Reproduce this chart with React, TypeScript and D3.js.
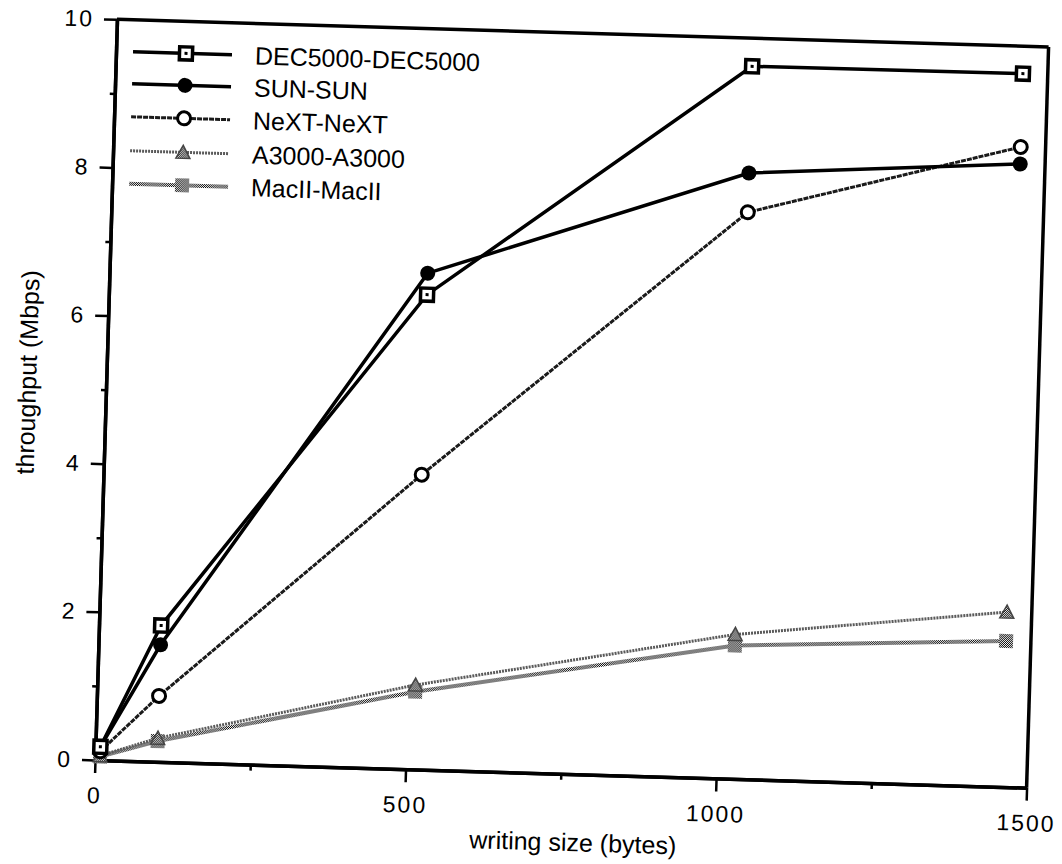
import React, { useRef, useEffect } from "react";
import * as d3 from "d3";

// writing size (bytes) and measured throughput (Mbps)
const writeSizes = [8, 100, 512, 1024, 1460];
const dec5000 = [0.18, 1.84, 6.41, 9.62, 9.63];
const sunSun = [0.18, 1.58, 6.7, 8.18, 8.41];
const nextNext = [0.12, 0.89, 3.98, 7.65, 8.64];
const a3000 = [0.06, 0.32, 1.14, 1.95, 2.36];
const macII = [0.05, 0.28, 1.05, 1.8, 1.97];

const seriesNames = ["DEC5000-DEC5000", "SUN-SUN", "NeXT-NeXT", "A3000-A3000", "MacII-MacII"];
const seriesValues = [dec5000, sunSun, nextNext, a3000, macII];

const xTicks = [0, 500, 1000, 1500];
const xMinorTicks = [250, 750, 1250];
const yTicks = [0, 2, 4, 6, 8, 10];
const yMinorTicks = [1, 3, 5, 7, 9];

const FONT = "'Liberation Sans', Arial, Helvetica, sans-serif";

export default function App() {
  const svgRef = useRef<SVGSVGElement>(null);

  useEffect(() => {
    const svg = d3.select(svgRef.current);
    svg.selectAll("*").remove();

    const width = 932;
    const height = 741;

    // checker pattern to imitate the dithered grey of the scan
    const defs = svg.append("defs");
    const pat = defs
      .append("pattern")
      .attr("id", "dither")
      .attr("width", 2)
      .attr("height", 2)
      .attr("patternUnits", "userSpaceOnUse");
    pat.append("rect").attr("width", 2).attr("height", 2).attr("fill", "#fff");
    pat.append("rect").attr("width", 1).attr("height", 1).attr("fill", "#000");
    pat.append("rect").attr("x", 1).attr("y", 1).attr("width", 1).attr("height", 1).attr("fill", "#000");

    // the scanned page is slightly tilted
    const g = svg.append("g").attr("transform", "translate(95,760) rotate(1.7)");

    const x = d3.scaleLinear().domain([0, 1500]).range([0, width]);
    const y = d3.scaleLinear().domain([0, 10]).range([0, -height]);

    // axes
    const xAxis = g
      .append("g")
      .call(d3.axisBottom(x).tickValues(xTicks).tickSize(13).tickSizeOuter(0).tickPadding(14).tickFormat(d3.format("d")));
    const xMinor = g
      .append("g")
      .call(d3.axisBottom(x).tickValues(xMinorTicks).tickSize(6).tickSizeOuter(0).tickFormat(() => ""));
    const yAxis = g
      .append("g")
      .call(d3.axisLeft(y).tickValues(yTicks).tickSize(13).tickSizeOuter(0).tickPadding(10).tickFormat(d3.format("d")));
    const yMinor = g
      .append("g")
      .call(d3.axisLeft(y).tickValues(yMinorTicks).tickSize(5).tickSizeOuter(0).tickFormat(() => ""));

    [xAxis, xMinor, yAxis, yMinor].forEach((a) => {
      a.select(".domain").attr("stroke", "#000").attr("stroke-width", 3.5);
      a.selectAll(".tick line").attr("stroke", "#000").attr("stroke-width", 2.5);
      a.selectAll(".tick text")
        .attr("fill", "#000")
        .style("font-family", FONT)
        .style("font-size", "23px")
        .style("letter-spacing", "2px");
    });

    // top and right frame
    g.append("line")
      .attr("x1", 0).attr("x2", width)
      .attr("y1", y(10)).attr("y2", y(10))
      .attr("stroke", "#000").attr("stroke-width", 3.5);
    g.append("line")
      .attr("x1", x(1500)).attr("x2", x(1500))
      .attr("y1", y(0)).attr("y2", y(10))
      .attr("stroke", "#000").attr("stroke-width", 3.5);

    // axis titles
    g.append("text")
      .attr("transform", `translate(-79,${y(5) - 15}) rotate(-90)`)
      .attr("text-anchor", "middle")
      .attr("dominant-baseline", "central")
      .style("font-family", FONT)
      .style("font-size", "25px")
      .text("throughput  (Mbps)");
    g.append("text")
      .attr("x", 480)
      .attr("y", 68)
      .attr("text-anchor", "middle")
      .attr("dominant-baseline", "central")
      .style("font-family", FONT)
      .style("font-size", "25px")
      .text("writing size (bytes)");

    const lineStyles = [
      { stroke: "#000", width: 3.5, dash: null },
      { stroke: "#000", width: 3.5, dash: null },
      { stroke: "#1a1a1a", width: 3, dash: "5 1" },
      { stroke: "#5a5a5a", width: 3, dash: "2 1" },
      { stroke: "url(#dither)", width: 4, dash: null },
    ];

    const drawMarker = (sel, i) => {
      if (i === 0) {
        sel.append("rect").attr("x", -6.5).attr("y", -6.5).attr("width", 13).attr("height", 13)
          .attr("fill", "#fff").attr("stroke", "#000").attr("stroke-width", 3.5);
        sel.append("rect").attr("x", -1.5).attr("y", -1.5).attr("width", 3).attr("height", 3).attr("fill", "#000");
      } else if (i === 1) {
        sel.append("circle").attr("r", 7.5).attr("fill", "#000");
      } else if (i === 2) {
        sel.append("circle").attr("r", 6.5).attr("fill", "#fff").attr("stroke", "#000").attr("stroke-width", 3);
      } else if (i === 3) {
        sel.append("path").attr("d", "M0,-7 L7,6 L-7,6 Z")
          .attr("fill", "url(#dither)").attr("stroke", "#444").attr("stroke-width", 1.5);
      } else {
        sel.append("rect").attr("x", -7).attr("y", -7).attr("width", 14).attr("height", 14)
          .attr("fill", "url(#dither)");
      }
    };

    const line = d3
      .line<number>()
      .x((d, i) => x(writeSizes[i]))
      .y((d) => y(d));

    // draw series, lighter ones first
    for (let i = seriesValues.length - 1; i >= 0; i--) {
      const st = lineStyles[i];
      g.append("path")
        .datum(seriesValues[i])
        .attr("d", line)
        .attr("fill", "none")
        .attr("stroke", st.stroke)
        .attr("stroke-width", st.width)
        .attr("stroke-dasharray", st.dash);
      seriesValues[i].forEach((v, j) => {
        const m = g.append("g").attr("transform", `translate(${x(writeSizes[j])},${y(v)})`);
        drawMarker(m, i);
      });
    }

    // legend
    const legendRows = [-709, -677, -644, -610, -577];
    seriesNames.forEach((name, i) => {
      const st = lineStyles[i];
      const row = g.append("g").attr("transform", `translate(0,${legendRows[i]})`);
      row.append("line")
        .attr("x1", 17).attr("x2", 116).attr("y1", 0).attr("y2", 0)
        .attr("stroke", st.stroke).attr("stroke-width", st.width)
        .attr("stroke-dasharray", st.dash);
      drawMarker(row.append("g").attr("transform", "translate(70,0)"), i);
      row.append("text")
        .attr("x", 139)
        .attr("y", 0)
        .attr("dominant-baseline", "central")
        .style("font-family", FONT)
        .style("font-size", "25px")
        .text(name);
    });
  }, []);

  return (
    <svg
      ref={svgRef}
      width={1062}
      height={864}
      style={{ position: "absolute", left: 0, top: 0, background: "#fff" }}
    />
  );
}
